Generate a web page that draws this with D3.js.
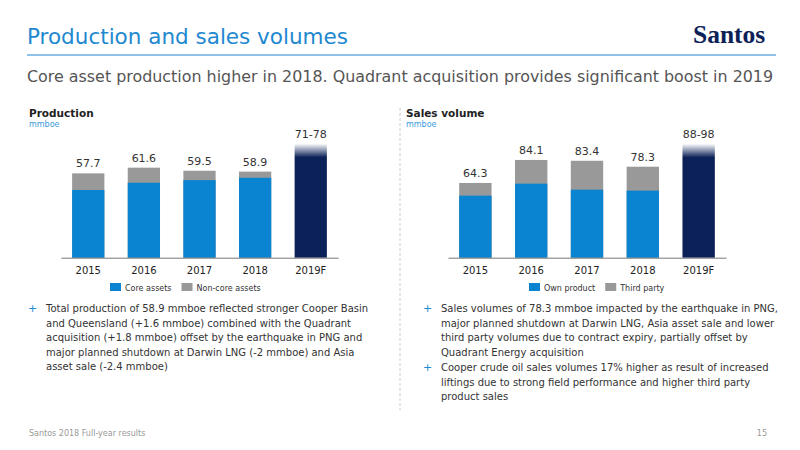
<!DOCTYPE html>
<html><head><meta charset="utf-8">
<script src="https://cdn.jsdelivr.net/npm/d3@7"></script>
<style>
body{margin:0;background:#fff;font-family:Verdana,"DejaVu Sans",sans-serif}
svg text{font-family:"DejaVu Sans",Verdana,sans-serif}
</style></head><body>
<svg id="c" width="800" height="450"></svg>
<script>
const years = ['2015', '2016', '2017', '2018', '2019F']
const prodCore = [46.3, 51.3, 53.1, 54.7, 78]
const prodTotal = [57.7, 61.6, 59.5, 58.9, 78]
const prodLabels = ['57.7', '61.6', '59.5', '58.9', '71-78']
const salesOwn = [53.4, 63.7, 58.5, 57.7, 98]
const salesTotal = [64.3, 84.1, 83.4, 78.3, 98]
const salesLabels = ['64.3', '84.1', '83.4', '78.3', '88-98']

const svg = d3.select('#c')
const blue = '#0a84d0', grey = '#999999', navy = '#0b2157'

svg.append('text').attr('x', 27).attr('y', 44).attr('fill', '#1e88d0')
    .attr('font-size', 21.5).text('Production and sales volumes')
svg.append('text').attr('x', 693).attr('y', 43).attr('fill', navy)
    .attr('font-weight', 'bold').attr('font-size', 25.5)
    .style('font-family', '"Liberation Serif",serif').text('Santos')
svg.append('line').attr('x1', 27).attr('x2', 776).attr('y1', 55).attr('y2', 55)
    .attr('stroke', '#1e88d0').attr('stroke-width', 1)
svg.append('text').attr('x', 27).attr('y', 82).attr('fill', '#555')
    .attr('font-size', 15.9).text('Core asset production higher in 2018. Quadrant acquisition provides significant boost in 2019')
svg.append('line').attr('x1', 400).attr('x2', 400).attr('y1', 108).attr('y2', 410)
    .attr('stroke', '#ccc').attr('stroke-dasharray', '3,2')

const defs = svg.append('defs')
const g = defs.append('linearGradient').attr('id', 'fade').attr('x1', 0).attr('x2', 0).attr('y1', 0).attr('y2', 1)
g.append('stop').attr('offset', 0).attr('stop-color', '#fff')
g.append('stop').attr('offset', 0.12).attr('stop-color', navy)
g.append('stop').attr('offset', 1).attr('stop-color', navy)

function chart(o) {
    const x = d3.scaleBand().domain(years).range([o.x0, o.x1]).paddingInner(0.42).paddingOuter(0.2)
    const y = d3.scaleLinear().domain([0, o.max]).range([257.7, 257.7 - o.pxMax])
    const area = svg.append('g')
    area.append('text').attr('x', o.tx).attr('y', 117).attr('font-size', 10.5)
        .attr('font-weight', 'bold').attr('fill', '#222').text(o.title)
    area.append('text').attr('x', o.tx).attr('y', 127).attr('font-size', 8)
        .attr('fill', '#3a9ad9').text('mmboe')
    years.forEach((yr, i) => {
        const last = i === years.length - 1
        area.append('rect').attr('x', x(yr)).attr('width', x.bandwidth())
            .attr('y', y(o.total[i])).attr('height', y(0) - y(o.total[i]))
            .attr('fill', last ? 'url(#fade)' : grey)
        if (!last) area.append('rect').attr('x', x(yr)).attr('width', x.bandwidth())
            .attr('y', y(o.base[i])).attr('height', y(0) - y(o.base[i])).attr('fill', blue)
        area.append('text').attr('x', x(yr) + x.bandwidth() / 2).attr('y', y(o.total[i]) - 6)
            .attr('text-anchor', 'middle').attr('font-size', 11).attr('fill', '#333').text(o.labels[i])
    })
    const ax = area.append('g').attr('transform', 'translate(0,257.7)')
        .call(d3.axisBottom(x).tickSize(0).tickPadding(9))
    ax.select('.domain').attr('stroke', '#777').attr('stroke-width', 1)
    ax.selectAll('text').attr('font-size', 10).attr('fill', '#222')
    let lx = o.legX
    o.legend.forEach((t, i) => {
        area.append('rect').attr('x', lx).attr('y', 283).attr('width', 11).attr('height', 8)
            .attr('fill', i ? grey : blue)
        const tt = area.append('text').attr('x', lx + 15).attr('y', 291).attr('font-size', 8)
            .attr('fill', '#333').text(t)
        lx += 15 + tt.node().getComputedTextLength() + 10
    })
}
chart({x0: 61, x1: 338, max: 78, pxMax: 114, total: prodTotal, base: prodCore, labels: prodLabels,
    title: 'Production', tx: 29, legend: ['Core assets', 'Non-core assets'], legX: 110})
chart({x0: 448, x1: 726, max: 98, pxMax: 113.9, total: salesTotal, base: salesOwn, labels: salesLabels,
    title: 'Sales volume', tx: 406, legend: ['Own product', 'Third party'], legX: 529})

function bullet(x, y, lines) {
    svg.append('text').attr('x', x).attr('y', y).attr('font-size', 11).attr('fill', '#1e88d0').text('+')
    lines.forEach((l, i) => svg.append('text').attr('x', x + 18).attr('y', y + i * 14.5)
        .attr('font-size', 10).attr('fill', '#333').text(l))
}
bullet(28, 312, ['Total production of 58.9 mmboe reflected stronger Cooper Basin',
    'and Queensland (+1.6 mmboe) combined with the Quadrant',
    'acquisition (+1.8 mmboe) offset by the earthquake in PNG and',
    'major planned shutdown at Darwin LNG (-2 mmboe) and Asia',
    'asset sale (-2.4 mmboe)'])
bullet(423, 312, ['Sales volumes of 78.3 mmboe impacted by the earthquake in PNG,',
    'major planned shutdown at Darwin LNG, Asia asset sale and lower',
    'third party volumes due to contract expiry, partially offset by',
    'Quadrant Energy acquisition'])
bullet(423, 371, ['Cooper crude oil sales volumes 17% higher as result of increased',
    'liftings due to strong field performance and higher third party',
    'product sales'])
svg.append('text').attr('x', 29).attr('y', 436).attr('font-size', 8).attr('fill', '#999').text('Santos 2018 Full-year results')
svg.append('text').attr('x', 767).attr('y', 436).attr('text-anchor', 'end').attr('font-size', 8).attr('fill', '#999').text('15')
</script></body></html>
